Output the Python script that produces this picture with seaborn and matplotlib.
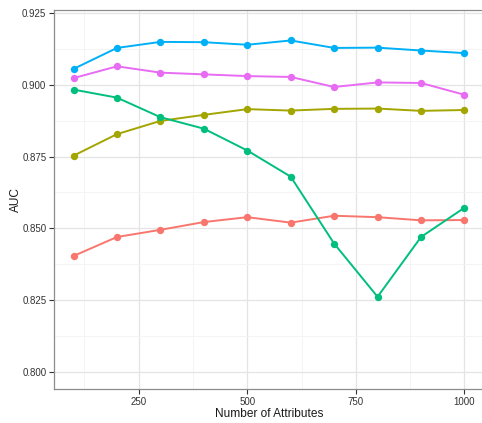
import numpy as np
import pandas as pd
import seaborn as sns
import matplotlib
matplotlib.use("Agg")
import matplotlib.pyplot as plt
from matplotlib.ticker import MultipleLocator

# Number of attributes used in each run
n_attributes = [100, 200, 300, 400, 500, 600, 700, 800, 900, 1000]

# AUC obtained by each method
auc_a = [0.8404, 0.8470, 0.8495, 0.8522, 0.8539, 0.8520, 0.8544, 0.8539, 0.8528, 0.8529]
auc_b = [0.8753, 0.8828, 0.8874, 0.8895, 0.8915, 0.8910, 0.8916, 0.8917, 0.8909, 0.8912]
auc_c = [0.8983, 0.8955, 0.8887, 0.8847, 0.8771, 0.8680, 0.8447, 0.8262, 0.8470, 0.8572]
auc_d = [0.9055, 0.9128, 0.9149, 0.9148, 0.9139, 0.9154, 0.9128, 0.9129, 0.9119, 0.9110]
auc_e = [0.9023, 0.9064, 0.9042, 0.9036, 0.9030, 0.9027, 0.8992, 0.9008, 0.9006, 0.8965]

method_names = ["A", "B", "C", "D", "E"]
colors = ["#F8766D", "#A3A500", "#00BF7D", "#00B0F6", "#E76BF3"]

frames = []
for name, vals in zip(method_names, [auc_a, auc_b, auc_c, auc_d, auc_e]):
    frames.append(pd.DataFrame({"attributes": n_attributes, "AUC": vals, "method": name}))
df = pd.concat(frames, ignore_index=True)

sns.set_theme(style="white")
plt.rcParams["font.family"] = ["Liberation Sans", "DejaVu Sans"]

fig = plt.figure(figsize=(4.82, 4.23), dpi=100)
ax = fig.add_axes([54 / 482, (423 - 389.3) / 423, 430 / 482, (389.3 - 10) / 423])

sns.lineplot(data=df, x="attributes", y="AUC", hue="method", palette=colors,
             marker="o", markersize=5.3, markeredgewidth=0, linewidth=1.4,
             legend=False, ax=ax, zorder=3)

ax.set_xlim(55, 1045)
ax.set_ylim(0.794, 0.926)
ax.xaxis.set_minor_locator(MultipleLocator(125))
ax.yaxis.set_minor_locator(MultipleLocator(0.0125))
ax.set_xticks([250, 500, 750, 1000])
ax.set_xticklabels(["250", "500", "750", "1000"])
ax.set_yticks([0.800, 0.825, 0.850, 0.875, 0.900, 0.925])
ax.set_yticklabels(["0.800", "0.825", "0.850", "0.875", "0.900", "0.925"])

ax.grid(which="major", color="#E4E4E4", linewidth=0.9, zorder=0)
ax.grid(which="minor", color="#F3F3F3", linewidth=0.6, zorder=0)
ax.set_axisbelow(True)

for side in ["left", "bottom", "top"]:
    ax.spines[side].set_visible(True)
    ax.spines[side].set_color("#8C8C8C")
    ax.spines[side].set_linewidth(0.9)
ax.spines["right"].set_visible(False)

ax.tick_params(axis="both", which="major", direction="out", length=3.5, width=0.8,
               color="#333333", labelsize=7, labelcolor="#333333", pad=2,
               bottom=True, left=True)
ax.tick_params(which="minor", length=0)

ax.set_xlabel("Number of Attributes", fontsize=8.6, color="#1A1A1A", labelpad=1)
ax.set_ylabel("AUC", fontsize=8.6, color="#1A1A1A", labelpad=0)

fig.savefig("out.png", dpi=100)
